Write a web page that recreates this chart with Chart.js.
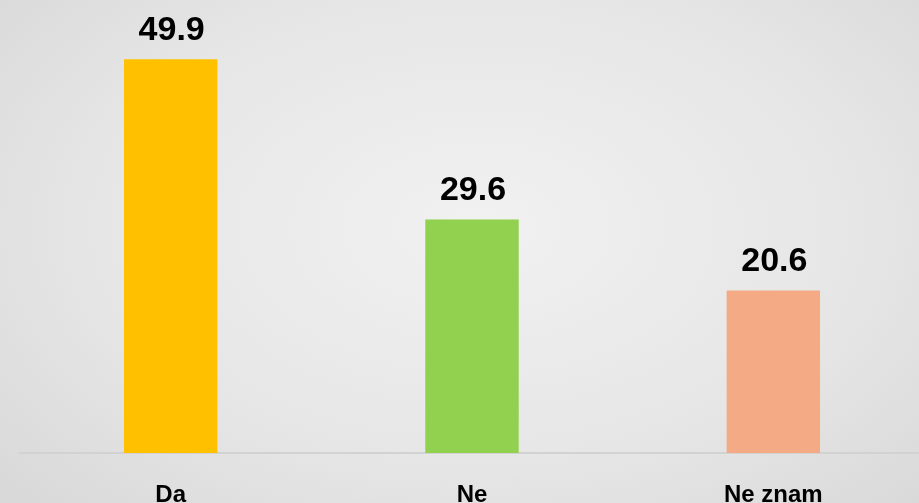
<!DOCTYPE html>
<html>
<head>
<meta charset="utf-8">
<script src="https://cdn.jsdelivr.net/npm/chart.js@4.4.0/dist/chart.umd.min.js"></script>
<style>
  html, body { margin: 0; padding: 0; overflow: hidden; }
  body {
    width: 919px; height: 503px;
    background: radial-gradient(ellipse 75% 85% at 52% 45%, #f1f1f1 0%, #e6e6e6 55%, #d6d6d6 100%);
  }
  #wrap { position: relative; width: 930px; height: 503px; }
</style>
</head>
<body>
<div id="wrap"><canvas id="myChart" width="930" height="503"></canvas></div>
<script>
var categories = ['Da', 'Ne', 'Ne znam'];
var values = [49.9, 29.6, 20.6];
var barColors = ['#FFC000', '#92D050', '#F4AA84'];

// value labels above the bars
var valueLabels = {
  id: 'valueLabels',
  afterDatasetsDraw: function(chart) {
    var ctx = chart.ctx;
    var meta = chart.getDatasetMeta(0);
    ctx.save();
    ctx.font = 'bold 34px "Liberation Sans", Arial, sans-serif';
    ctx.fillStyle = '#000';
    ctx.textAlign = 'center';
    ctx.textBaseline = 'alphabetic';
    meta.data.forEach(function(bar, i) {
      ctx.fillText(values[i].toFixed(1), bar.x + 1, bar.y - 19);
    });
    ctx.restore();
  }
};

new Chart(document.getElementById('myChart'), {
  type: 'bar',
  data: {
    labels: categories,
    datasets: [{
      data: values,
      backgroundColor: barColors,
      borderWidth: 0,
      barPercentage: 0.62,
      categoryPercentage: 0.5
    }]
  },
  options: {
    responsive: false,
    animation: false,
    layout: { padding: { left: 20, right: 6, top: 19, bottom: 0 } },
    plugins: { legend: { display: false }, tooltip: { enabled: false } },
    scales: {
      x: {
        grid: { display: false, drawTicks: false },
        border: { display: true, color: '#d2d2d2', width: 2 },
        ticks: {
          color: '#000',
          padding: 28,
          font: { family: '"Liberation Sans", Arial, sans-serif', size: 24, weight: 'bold' }
        },
        afterFit: function(scale) { scale.height = 50; }
      },
      y: {
        display: false,
        min: 0,
        max: 55
      }
    }
  },
  plugins: [valueLabels]
});
</script>
</body>
</html>
